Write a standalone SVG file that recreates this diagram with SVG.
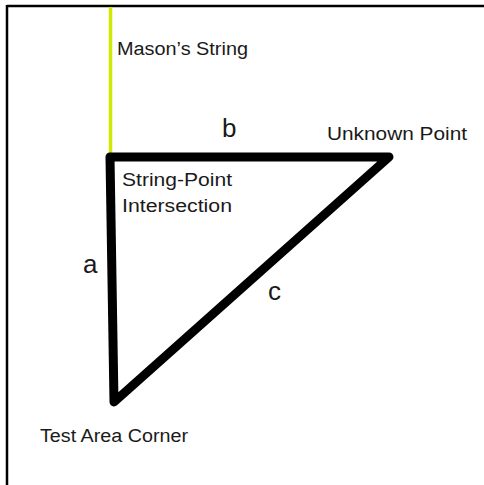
<svg xmlns="http://www.w3.org/2000/svg" width="484" height="485" viewBox="0 0 484 485">
<style>
.lbl{font-family:"Liberation Sans",Arial,sans-serif;fill:#1a1a1a;font-size:18px}
.big{font-family:"Liberation Sans",Arial,sans-serif;fill:#1a1a1a;font-size:26px}
.edge{stroke:#000;stroke-width:9;fill:none;stroke-linecap:round;stroke-linejoin:round}
</style>
<rect width="484" height="485" fill="#fff"/>
<g id="frame">
<line x1="7" y1="6" x2="484" y2="6" stroke="#000" stroke-width="2.5"/>
<line x1="7" y1="5" x2="7" y2="485" stroke="#000" stroke-width="2.5"/>
</g>
<g id="connectors">
<line id="string" x1="110.5" y1="7" x2="110.5" y2="153" stroke="#d2e800" stroke-width="3.5"/>
<polyline class="edge" points="110,157 389,157 114,402 110,157"/>
</g>
<g id="mason-string"><text class="lbl" x="117" y="55" textLength="131" lengthAdjust="spacingAndGlyphs">Mason’s String</text></g>
<g id="edge-b"><text class="big" x="222" y="137">b</text></g>
<g id="unknown-point"><text class="lbl" x="327" y="140" textLength="140" lengthAdjust="spacingAndGlyphs">Unknown Point</text></g>
<g id="string-point-intersection">
<text class="lbl" x="122" y="186" textLength="110" lengthAdjust="spacingAndGlyphs">String-Point</text>
<text class="lbl" x="122" y="212" textLength="110" lengthAdjust="spacingAndGlyphs">Intersection</text>
</g>
<g id="edge-a"><text class="big" x="83" y="273">a</text></g>
<g id="edge-c"><text class="big" x="268" y="300">c</text></g>
<g id="test-area-corner"><text class="lbl" x="40" y="442" textLength="148" lengthAdjust="spacingAndGlyphs">Test Area Corner</text></g>
</svg>
